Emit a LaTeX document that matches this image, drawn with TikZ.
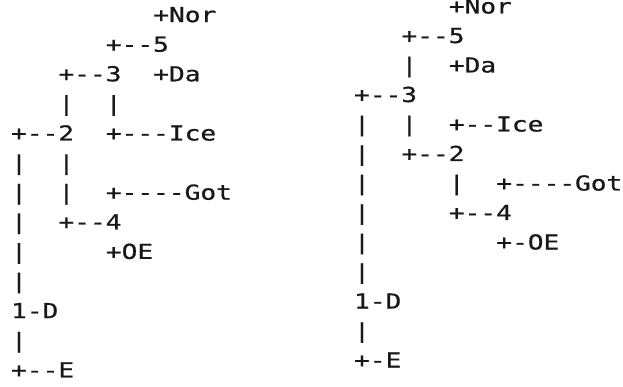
\documentclass[tikz,border=0pt]{standalone}
\usepackage{fontspec}
\newfontfamily\asciimono[FakeStretch=1.27,FakeBold=0.8,Ligatures=TeXOff]{DejaVu Sans Mono}
\definecolor{ink}{RGB}{24,24,24}
\tikzset{seg/.style={anchor=base west, inner sep=0pt, outer sep=0pt, text=ink,
  font=\asciimono\fontsize{20.6}{22}\selectfont}}
% left tree: column 0 left edge 11.1, column width 15.8, row 0 centre 14.6, row pitch 29.6
\newcommand\Lseg[4]{\node[seg] (#1) at ({11.1+#2*15.8},{22.1+29.6*#3}) {#4};}
% right tree: column 0 left edge 354.1, row 0 centre 6, row pitch 29.5
\newcommand\Rseg[4]{\node[seg] (#1) at ({354.1+#2*15.8},{13.5+29.5*#3}) {#4};}
\begin{document}
\begin{tikzpicture}[x=1pt,y=-1pt]
\useasboundingbox (0,0) rectangle (623,387);
% ---- left tree
\Lseg{LNor}{9}{0}{+Nor}
\Lseg{Lfive}{6}{1}{+--5}
\Lseg{Lthree}{3}{2}{+--3}
\Lseg{LDa}{9}{2}{+Da}
\Lseg{Lbar3a}{3}{3}{|}
\Lseg{Lbar3b}{6}{3}{|}
\Lseg{Ltwo}{0}{4}{+--2}
\Lseg{LIce}{6}{4}{+---Ice}
\Lseg{Lbar5a}{0}{5}{|}
\Lseg{Lbar5b}{3}{5}{|}
\Lseg{Lbar6a}{0}{6}{|}
\Lseg{Lbar6b}{3}{6}{|}
\Lseg{LGot}{6}{6}{+----Got}
\Lseg{Lbar7}{0}{7}{|}
\Lseg{Lfour}{3}{7}{+--4}
\Lseg{Lbar8}{0}{8}{|}
\Lseg{LOE}{6}{8}{+OE}
\Lseg{Lbar9}{0}{9}{|}
\Lseg{LD}{0}{10}{1-D}
\Lseg{Lbar11}{0}{11}{|}
\Lseg{LE}{0}{12}{+--E}
% ---- right tree
\Rseg{RNor}{6}{0}{+Nor}
\Rseg{Rfive}{3}{1}{+--5}
\Rseg{Rbar2}{3}{2}{|}
\Rseg{RDa}{6}{2}{+Da}
\Rseg{Rthree}{0}{3}{+--3}
\Rseg{Rbar4a}{0}{4}{|}
\Rseg{Rbar4b}{3}{4}{|}
\Rseg{RIce}{6}{4}{+--Ice}
\Rseg{Rbar5}{0}{5}{|}
\Rseg{Rtwo}{3}{5}{+--2}
\Rseg{Rbar6a}{0}{6}{|}
\Rseg{Rbar6b}{6}{6}{|}
\Rseg{RGot}{9}{6}{+----Got}
\Rseg{Rbar7}{0}{7}{|}
\Rseg{Rfour}{6}{7}{+--4}
\Rseg{Rbar8}{0}{8}{|}
\Rseg{ROE}{9}{8}{+-OE}
\Rseg{Rbar9}{0}{9}{|}
\Rseg{RD}{0}{10}{1-D}
\Rseg{Rbar11}{0}{11}{|}
\Rseg{RE}{0}{12}{+-E}
\end{tikzpicture}
\end{document}
